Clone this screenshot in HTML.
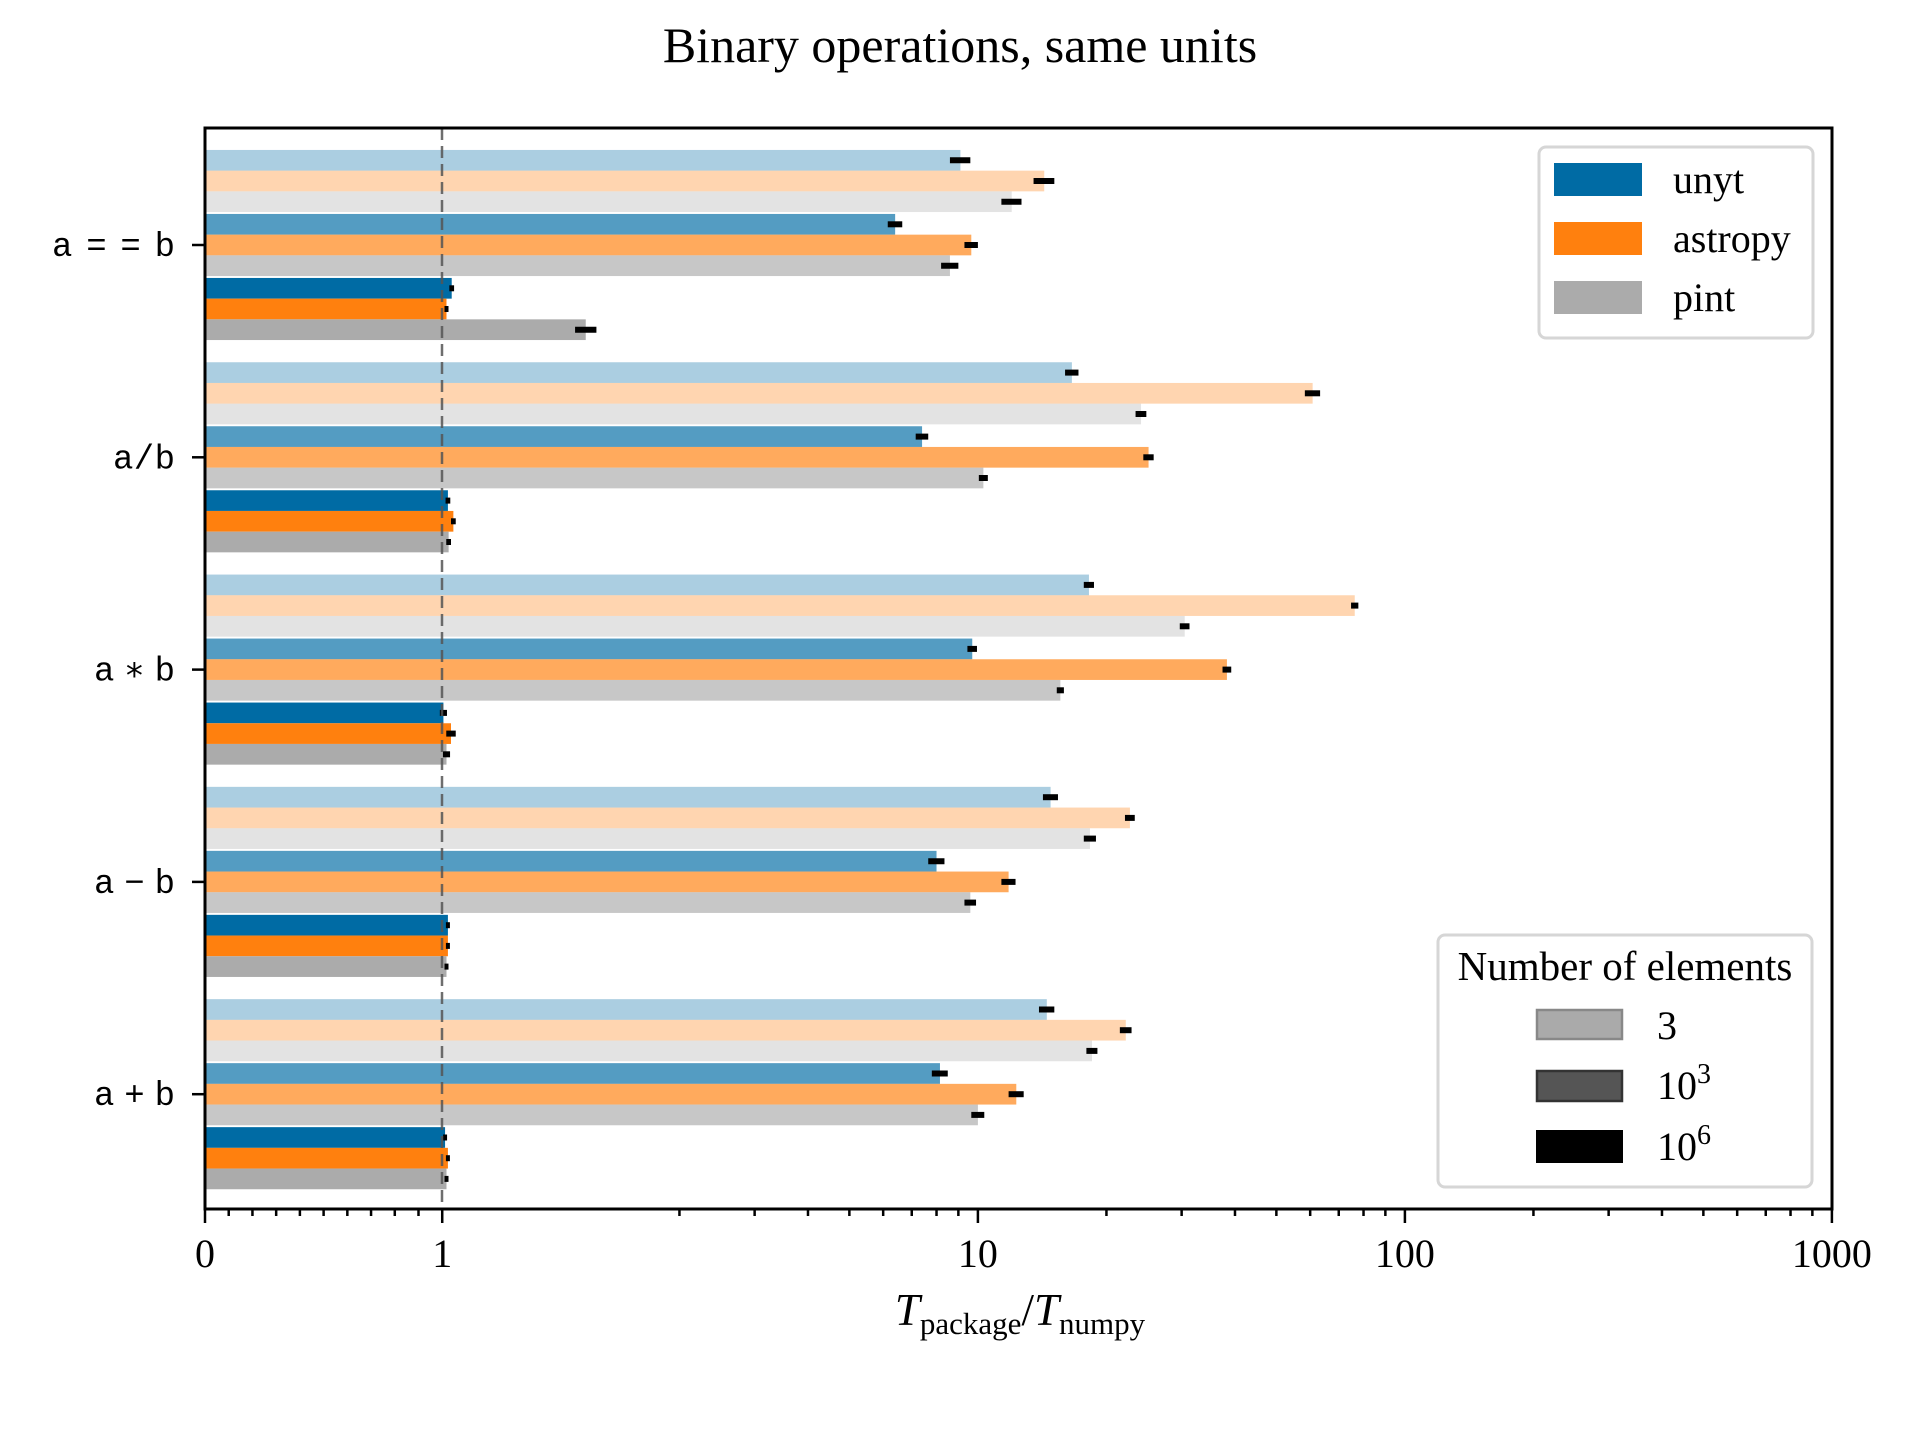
<!DOCTYPE html>
<html><head><meta charset="utf-8"><style>
html,body{margin:0;padding:0;background:#fff;}
svg{display:block;}
text{font-family:"Liberation Serif",serif;fill:#000;}
.mono{font-family:"Liberation Mono",monospace;}
</style></head><body>
<svg id="chart" width="1920" height="1440" viewBox="0 0 1920 1440" xmlns="http://www.w3.org/2000/svg">
<text x="960" y="62" font-size="50" text-anchor="middle">Binary operations, same units</text>
<g id="bars"></g>
<g id="errs"></g>
<line x1="442" y1="128" x2="442" y2="1209" stroke="#555" stroke-opacity="0.85" stroke-width="2.5" stroke-dasharray="12,6"/>
<g id="ticks"></g>
<rect x="205" y="128" width="1627" height="1081" fill="none" stroke="#000" stroke-width="3"/>
<text x="1020" y="1325" font-size="45" text-anchor="middle"><tspan font-style="italic">T</tspan><tspan font-size="31" dy="9">package</tspan><tspan dy="-9">/</tspan><tspan font-style="italic">T</tspan><tspan font-size="31" dy="9">numpy</tspan></text>
<g>
<rect x="1539" y="147" width="274" height="191" rx="7" fill="#fff" stroke="#d6d6d6" stroke-width="3"/>
<rect x="1554" y="163" width="88" height="33" fill="#006ba4"/>
<text x="1673" y="193" font-size="40">unyt</text>
<rect x="1554" y="222" width="88" height="33" fill="#ff800e"/>
<text x="1673" y="252" font-size="40">astropy</text>
<rect x="1554" y="281" width="88" height="33" fill="#ababab"/>
<text x="1673" y="311" font-size="40">pint</text>
</g>
<g>
<rect x="1438" y="935" width="374" height="252" rx="7" fill="#fff" stroke="#d6d6d6" stroke-width="3"/>
<text x="1625" y="980" font-size="41" text-anchor="middle">Number of elements</text>
<rect x="1537" y="1010" width="85" height="29" fill="#aaaaaa" stroke="#888" stroke-width="2.5"/>
<text x="1657" y="1039" font-size="40">3</text>
<rect x="1537" y="1071" width="85" height="30" fill="#555" stroke="#333" stroke-width="2.5"/>
<text x="1657" y="1099" font-size="40">10<tspan font-size="28" dy="-16">3</tspan></text>
<rect x="1536" y="1130" width="87" height="33" fill="#000"/>
<text x="1657" y="1160" font-size="40">10<tspan font-size="28" dy="-16">6</tspan></text>
</g>
</svg>
<script>
const categories = ["a==b", "a/b", "a*b", "a-b", "a+b"];
const categoryLabels = ["a==b", "a/b", "a\u2217b", "a\u2212b", "a+b"];
const unyt3 = [9.1, 16.6, 18.2, 14.8, 14.5];
const astropy3 = [14.3, 60.8, 76.3, 22.7, 22.2];
const pint3 = [12.0, 24.1, 30.5, 18.3, 18.5];
const unyt1e3 = [6.4, 7.4, 9.7, 8.0, 8.15];
const astropy1e3 = [9.65, 25.1, 38.3, 11.8, 12.3];
const pint1e3 = [8.6, 10.3, 15.6, 9.6, 10.0];
const unyt1e6 = [1.04, 1.024, 1.005, 1.024, 1.012];
const astropy1e6 = [1.018, 1.047, 1.037, 1.024, 1.024];
const pint1e6 = [1.605, 1.027, 1.018, 1.018, 1.018];
const unyt3Err = [0.5, 0.6, 0.5, 0.6, 0.6];
const astropy3Err = [0.8, 2.5, 1.5, 0.6, 0.7];
const pint3Err = [0.65, 0.7, 0.8, 0.6, 0.55];
const unyt1e3Err = [0.25, 0.25, 0.25, 0.35, 0.35];
const astropy1e3Err = [0.35, 0.7, 0.9, 0.45, 0.5];
const pint1e3Err = [0.4, 0.25, 0.3, 0.3, 0.35];
const unyt1e6Err = [0.01, 0.01, 0.015, 0.007, 0.007];
const astropy1e6Err = [0.005, 0.01, 0.02, 0.007, 0.007];
const pint1e6Err = [0.045, 0.01, 0.015, 0.005, 0.005];
const majorTicks = [0, 1, 10, 100, 1000];
const majorTickLabels = ["0", "1", "10", "100", "1000"];

const NS = "http://www.w3.org/2000/svg";
const X0 = 205, DEC = 427, Y_TOP = 128, Y_BOT = 1209;
function xScale(v) {
  const u = v <= 2 ? (v / 2) * (1 / 0.9) : (1 / 0.9) + Math.log10(v / 2);
  return X0 + DEC * u;
}
const GROUP_PITCH = 212.3;
const FIRST_CENTER = 245;
function yCenter(i) { return FIRST_CENTER + GROUP_PITCH * i; }
const BAR_H = 20.7, BLOCK_PITCH = 64;

const series = [
  {name: "unyt", size: "3", vals: unyt3, errs: unyt3Err, color: "#006ba4", op: 0.33, block: 0, slot: 0},
  {name: "astropy", size: "3", vals: astropy3, errs: astropy3Err, color: "#ff800e", op: 0.33, block: 0, slot: 1},
  {name: "pint", size: "3", vals: pint3, errs: pint3Err, color: "#ababab", op: 0.33, block: 0, slot: 2},
  {name: "unyt", size: "1e3", vals: unyt1e3, errs: unyt1e3Err, color: "#006ba4", op: 0.67, block: 1, slot: 0},
  {name: "astropy", size: "1e3", vals: astropy1e3, errs: astropy1e3Err, color: "#ff800e", op: 0.67, block: 1, slot: 1},
  {name: "pint", size: "1e3", vals: pint1e3, errs: pint1e3Err, color: "#ababab", op: 0.67, block: 1, slot: 2},
  {name: "unyt", size: "1e6", vals: unyt1e6, errs: unyt1e6Err, color: "#006ba4", op: 1, block: 2, slot: 0},
  {name: "astropy", size: "1e6", vals: astropy1e6, errs: astropy1e6Err, color: "#ff800e", op: 1, block: 2, slot: 1},
  {name: "pint", size: "1e6", vals: pint1e6, errs: pint1e6Err, color: "#ababab", op: 1, block: 2, slot: 2}
];

const barsG = document.getElementById("bars");
const errsG = document.getElementById("errs");
const ticksG = document.getElementById("ticks");

categories.forEach(function (cat, i) {
  const c = yCenter(i);
  series.forEach(function (s) {
    const cy = c + (s.block - 1) * BLOCK_PITCH + (s.slot - 1) * BAR_H;
    const v = s.vals[i];
    const r = document.createElementNS(NS, "rect");
    r.setAttribute("x", X0);
    r.setAttribute("y", cy - BAR_H / 2);
    r.setAttribute("width", Math.max(0, xScale(v) - X0));
    r.setAttribute("height", BAR_H);
    r.setAttribute("fill", s.color);
    r.setAttribute("fill-opacity", s.op);
    
    
    barsG.appendChild(r);
    const e = s.errs[i];
    let xa = xScale(v - e), xb = xScale(v + e);
    if (xb - xa < 4) { const m = (xa + xb) / 2; xa = m - 2; xb = m + 2; }
    const l = document.createElementNS(NS, "line");
    l.setAttribute("x1", xa); l.setAttribute("x2", xb);
    l.setAttribute("y1", cy); l.setAttribute("y2", cy);
    l.setAttribute("stroke", "#000"); l.setAttribute("stroke-width", "6");
    
    
    errsG.appendChild(l);
  });
  const t = document.createElementNS(NS, "line");
  t.setAttribute("x1", X0 - 13); t.setAttribute("x2", X0);
  t.setAttribute("y1", c); t.setAttribute("y2", c);
  t.setAttribute("stroke", "#000"); t.setAttribute("stroke-width", "2.5");
  
  
  ticksG.appendChild(t);
  const tx = document.createElementNS(NS, "text");
  tx.setAttribute("x", X0 - 30);
  tx.setAttribute("y", c + 11);
  tx.setAttribute("text-anchor", "end");
  tx.setAttribute("font-size", "34");
  tx.setAttribute("class", "mono");
  const lab = categoryLabels[i];
  tx.setAttribute("textLength", lab.length === 4 ? 123 : (lab === "a/b" ? 62 : 81));
  tx.setAttribute("lengthAdjust", "spacing");
  tx.textContent = lab;
  
  
  ticksG.appendChild(tx);
});

function addXTick(v, len) {
  const x = xScale(v);
  const l = document.createElementNS(NS, "line");
  l.setAttribute("x1", x); l.setAttribute("x2", x);
  l.setAttribute("y1", Y_BOT); l.setAttribute("y2", Y_BOT + len);
  l.setAttribute("stroke", "#000"); l.setAttribute("stroke-width", "2.5");
  
  
  ticksG.appendChild(l);
}
majorTicks.forEach(function (v, k) {
  addXTick(v, 14);
  const t = document.createElementNS(NS, "text");
  t.setAttribute("x", xScale(v));
  t.setAttribute("y", 1267);
  t.setAttribute("text-anchor", "middle");
  t.setAttribute("font-size", "40");
  t.textContent = majorTickLabels[k];
  
  
  ticksG.appendChild(t);
});
for (let k = 1; k <= 9; k++) addXTick(k / 10, 7);
[2, 3, 4, 5, 6, 7, 8, 9].forEach(function (m) { addXTick(m, 7); addXTick(m * 10, 7); addXTick(m * 100, 7); });
</script>
</body></html>
